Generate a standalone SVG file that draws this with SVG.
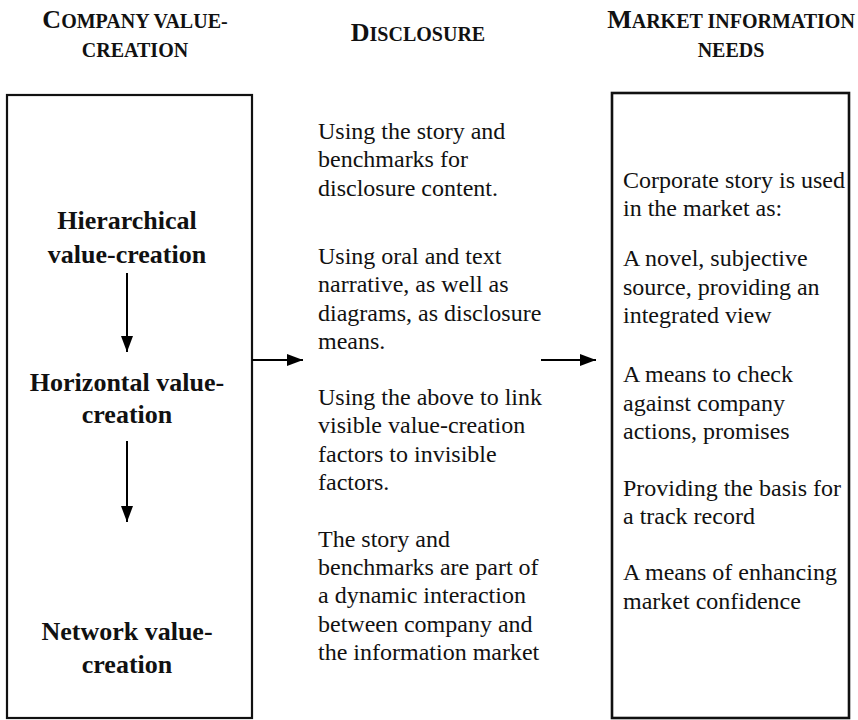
<svg xmlns="http://www.w3.org/2000/svg" width="858" height="720" viewBox="0 0 858 720">
  <defs>
    <style>
      .hdr { font-family: "Liberation Serif", "DejaVu Serif", serif; font-size: 20px; font-weight: bold; fill: #111; text-anchor: middle; }
      .cap { font-size: 26px; }
      .bold { font-family: "Liberation Serif", "DejaVu Serif", serif; font-size: 26px; font-weight: bold; fill: #111; text-anchor: middle; }
      .body { font-family: "Liberation Serif", "DejaVu Serif", serif; font-size: 24px; fill: #111; }
      .box { fill: #fff; stroke: #111; stroke-width: 2.2; }
      .conn { stroke: #000; stroke-width: 2; fill: none; }
    </style>
    <marker id="ah" viewBox="0 0 16 12" refX="16" refY="6" markerWidth="16" markerHeight="12" markerUnits="userSpaceOnUse" orient="auto">
      <path d="M0,0 L16,6 L0,12 Z" fill="#000"/>
    </marker>
  </defs>

  <g id="headers">
    <text class="hdr" x="135" y="28"><tspan class="cap">C</tspan>OMPANY VALUE-</text>
    <text class="hdr" x="135" y="57">CREATION</text>
    <text class="hdr" x="418" y="41"><tspan class="cap">D</tspan>ISCLOSURE</text>
    <text class="hdr" x="731" y="28"><tspan class="cap">M</tspan>ARKET INFORMATION</text>
    <text class="hdr" x="731" y="57">NEEDS</text>
  </g>

  <g id="company-box">
    <rect class="box" x="7" y="95" width="245" height="623"/>
  </g>
  <g id="hierarchical">
    <text class="bold" x="127" y="229">Hierarchical</text>
    <text class="bold" x="127" y="263">value-creation</text>
  </g>
  <g id="horizontal">
    <text class="bold" x="127" y="391">Horizontal value-</text>
    <text class="bold" x="127" y="423">creation</text>
  </g>
  <g id="network">
    <text class="bold" x="127" y="640">Network value-</text>
    <text class="bold" x="127" y="673">creation</text>
  </g>

  <g id="disclosure">
    <text class="body" x="318" y="139">Using the story and</text>
    <text class="body" x="318" y="167">benchmarks for</text>
    <text class="body" x="318" y="196">disclosure content.</text>
    <text class="body" x="318" y="264">Using oral and text</text>
    <text class="body" x="318" y="292">narrative, as well as</text>
    <text class="body" x="318" y="321">diagrams, as disclosure</text>
    <text class="body" x="318" y="349">means.</text>
    <text class="body" x="318" y="405">Using the above to link</text>
    <text class="body" x="318" y="433">visible value-creation</text>
    <text class="body" x="318" y="462">factors to invisible</text>
    <text class="body" x="318" y="490">factors.</text>
    <text class="body" x="318" y="547">The story and</text>
    <text class="body" x="318" y="575">benchmarks are part of</text>
    <text class="body" x="318" y="603">a dynamic interaction</text>
    <text class="body" x="318" y="632">between company and</text>
    <text class="body" x="318" y="660">the information market</text>
  </g>

  <g id="market-box">
    <rect class="box" x="612" y="93" width="237" height="625" style="stroke-width:2.6"/>
    <text class="body" x="623" y="188">Corporate story is used</text>
    <text class="body" x="623" y="216">in the market as:</text>
    <text class="body" x="623" y="266">A novel, subjective</text>
    <text class="body" x="623" y="295">source, providing an</text>
    <text class="body" x="623" y="323">integrated view</text>
    <text class="body" x="623" y="382">A means to check</text>
    <text class="body" x="623" y="411">against company</text>
    <text class="body" x="623" y="439">actions, promises</text>
    <text class="body" x="623" y="496">Providing the basis for</text>
    <text class="body" x="623" y="524">a track record</text>
    <text class="body" x="623" y="580">A means of enhancing</text>
    <text class="body" x="623" y="609">market confidence</text>
  </g>

  <g id="connectors">
    <line class="conn" x1="127" y1="273" x2="127" y2="352" marker-end="url(#ah)"/>
    <line class="conn" x1="127" y1="441" x2="127" y2="522" marker-end="url(#ah)"/>
    <line class="conn" x1="252" y1="360" x2="303" y2="360" marker-end="url(#ah)"/>
    <line class="conn" x1="541" y1="360" x2="596" y2="360" marker-end="url(#ah)"/>
  </g>
</svg>
